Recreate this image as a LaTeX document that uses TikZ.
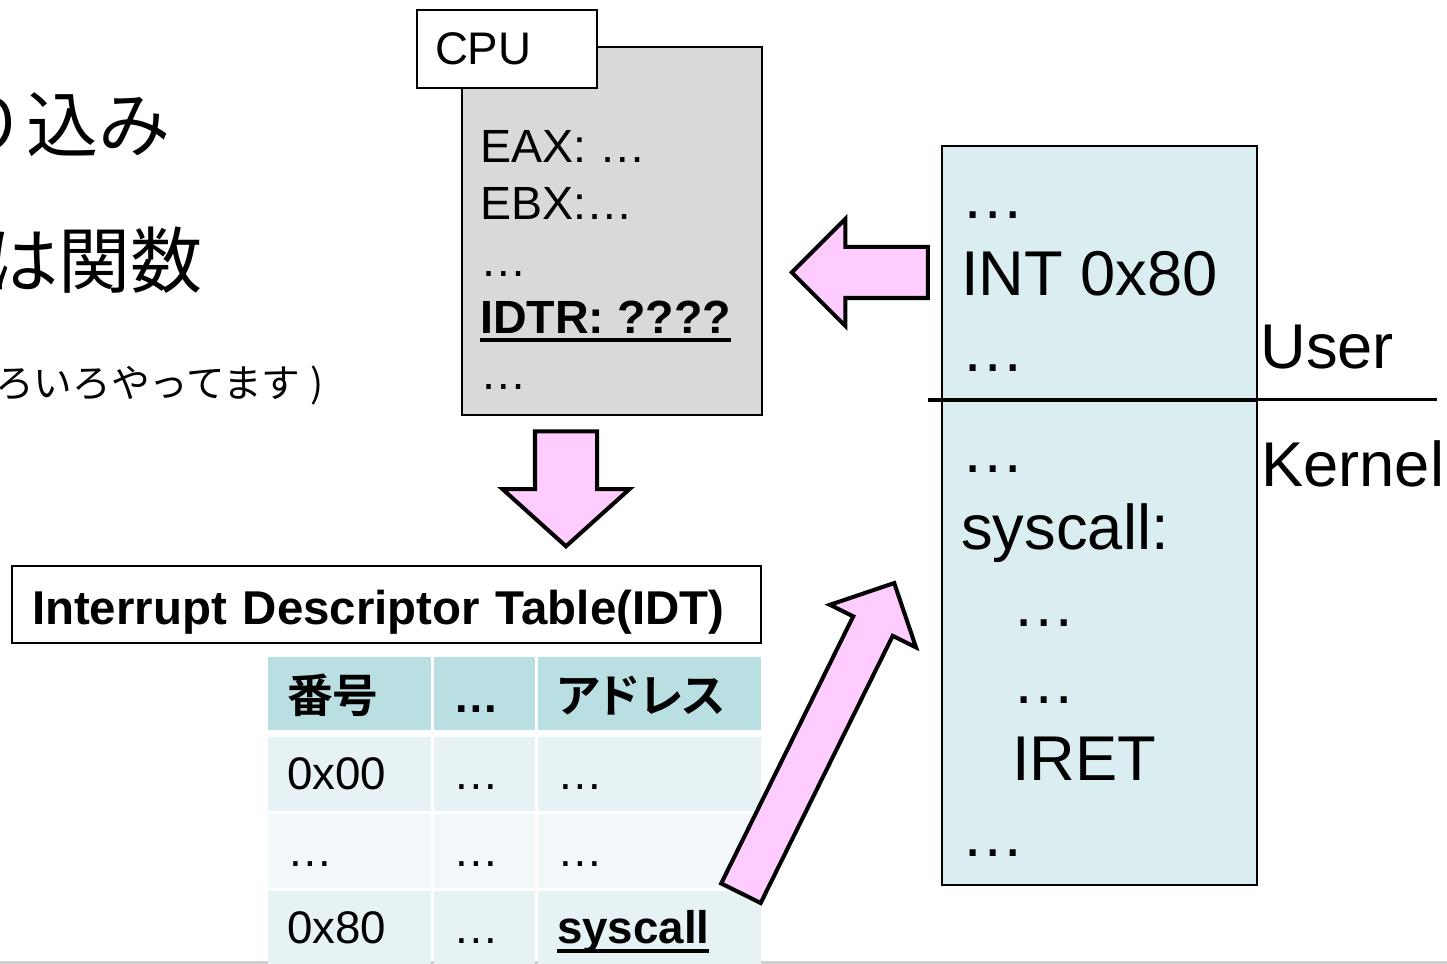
\documentclass[tikz,border=0pt]{standalone}
\usepackage{fontspec}
\setmainfont{Liberation Sans}
\newfontfamily\jp[BoldFont={Noto Sans CJK JP Bold}]{Noto Sans CJK JP}
\usetikzlibrary{shapes.arrows}
\definecolor{cpugrey}{HTML}{D9D9D9}
\definecolor{codebg}{HTML}{DAEEF2}
\definecolor{idthead}{HTML}{B9DFE3}
\definecolor{idtodd}{HTML}{E6F2F4}
\definecolor{idteven}{HTML}{F2F8FA}
\definecolor{arrowpink}{HTML}{FFCCFF}
\definecolor{slideedge}{HTML}{D0D0D0}
\newcommand{\ulbold}[1]{\leavevmode\setbox0=\hbox{#1}\rlap{\rule[-0.19em]{\wd0}{0.075em}}\box0}

\begin{document}
\begin{tikzpicture}[
box/.style={draw,line width=1.1pt,inner sep=0pt},
blockarrow/.style={single arrow,draw,fill=arrowpink,line width=2.3pt,inner xsep=0pt,line join=miter,anchor=tip},
idtcell/.style={inner xsep=0.38cm,inner ysep=0pt,align=left,minimum height=1.48cm,text height=20pt,text depth=1.8pt,font=\fontsize{26}{30}\selectfont},
numcol/.style={text width=2.50cm},
gapcol/.style={text width=1.26cm},
addrcol/.style={text width=3.70cm},
codefont/.style={font=\fontsize{36}{43.8}\selectfont}]
  \clip (0,0) rectangle (28.94,19.28);
  \fill[slideedge] (0,0) rectangle (28.94,0.06);
  % slide text cut off at the left edge
  \node[anchor=base east,inner sep=0pt,font=\jp\fontsize{41}{41}\selectfont] (line1) at (3.42,16.24) {割り込み};
  \node[anchor=base east,inner sep=0pt,font=\jp\fontsize{41}{41}\selectfont] (line2) at (4.06,13.52) {は関数};
  \node[anchor=base east,inner sep=0pt,font=\jp\fontsize{22}{22}\selectfont] (line3) at (6.48,11.32) {(いろいろやってます\kern0.2cm)};
  % CPU registers
  \node[box,fill=cpugrey,minimum width=6.0cm,minimum height=7.36cm] (cpu) at (12.24,14.66) {};
  \node[box,fill=white,text width=2.88cm,inner xsep=0.36cm,minimum height=1.56cm,align=left,font=\fontsize{26}{30}\selectfont] (cpulabel) at (10.14,18.30) {CPU};
  \node[anchor=base west,inner sep=0pt,align=left,font=\fontsize{26.5}{32.4}\selectfont] (regs) at (9.60,11.48) {EAX: …\\EBX:…\\…\\\ulbold{\textbf{IDTR: ????}}\\…};
  \node[blockarrow,rotate=180,minimum height=2.72cm,inner ysep=0.47cm,single arrow head extend=0.56cm] (toCPU) at (15.78,13.83) {};
  \node[blockarrow,rotate=-90,minimum height=2.30cm,inner ysep=0.58cm,single arrow head extend=0.65cm,single arrow tip angle=96] (toIDT) at (11.32,8.30) {};
  % IDT
  \node[box,text width=14.18cm,inner xsep=0.40cm,minimum height=1.54cm,align=left,text height=25pt,text depth=1.7pt,font=\bfseries\fontsize{27}{30}\selectfont] (idt) at (7.73,7.19) {Interrupt Descriptor Table(IDT)};
  \node[idtcell,numcol,fill=idthead,minimum height=1.46cm,text height=23pt,text depth=1pt] (hnum) at (6.99,5.41) {\jp\bfseries 番号};
  \node[idtcell,gapcol,fill=idthead,minimum height=1.46cm,text height=23pt,text depth=1pt] (hgap) at (9.69,5.41) {\bfseries …};
  \node[idtcell,addrcol,fill=idthead,minimum height=1.46cm,text height=23pt,text depth=1pt] (haddr) at (12.99,5.41) {\jp\bfseries\addfontfeature{RawFeature=+palt}アドレス};
  \node[idtcell,numcol,fill=idtodd] (num1) at (6.99,3.80) {0x00};
  \node[idtcell,gapcol,fill=idtodd] (gap1) at (9.69,3.80) {…};
  \node[idtcell,addrcol,fill=idtodd] (addr1) at (12.99,3.80) {…};
  \node[idtcell,numcol,fill=idteven] (num2) at (6.99,2.26) {…};
  \node[idtcell,gapcol,fill=idteven] (gap2) at (9.69,2.26) {…};
  \node[idtcell,addrcol,fill=idteven] (addr2) at (12.99,2.26) {…};
  \node[idtcell,numcol,fill=idtodd] (num3) at (6.99,0.72) {0x80};
  \node[idtcell,gapcol,fill=idtodd] (gap3) at (9.69,0.72) {…};
  \node[idtcell,addrcol,fill=idtodd] (addr3) at (12.99,0.72) {\ulbold{\textbf{syscall}}};
  % program memory, user / kernel
  \node[box,fill=codebg,minimum width=6.3cm,minimum height=14.78cm] (code) at (21.99,8.97) {};
  \coordinate (split) at (18.56,11.28);
  \coordinate (splitend) at (28.74,11.28);
  \draw[line width=2.8pt] (split) -- (split -| code.east);
  \draw[line width=1.7pt] (split -| code.east) -- (splitend);
  \node[anchor=base west,inner sep=0pt,align=left,codefont] (usercode) at (19.22,11.84) {…\\INT 0x80\\…};
  \node[anchor=base west,inner sep=0pt,align=left,codefont] (kernelcode) at (19.22,2.14) {…\\syscall:\\\hspace*{1.02cm}…\\\hspace*{1.02cm}…\\\hspace*{1.02cm}IRET\\…};
  \node[anchor=base west,inner sep=0pt,codefont] (user) at (25.20,11.90) {User};
  \node[anchor=base west,inner sep=0pt,codefont] (kernel) at (25.22,9.54) {Kernel};
  \node[blockarrow,rotate=63.7,minimum height=6.92cm,inner ysep=0.4cm,single arrow head extend=0.52cm] (toHandler) at (17.91,7.67) {};
\end{tikzpicture}
\end{document}
